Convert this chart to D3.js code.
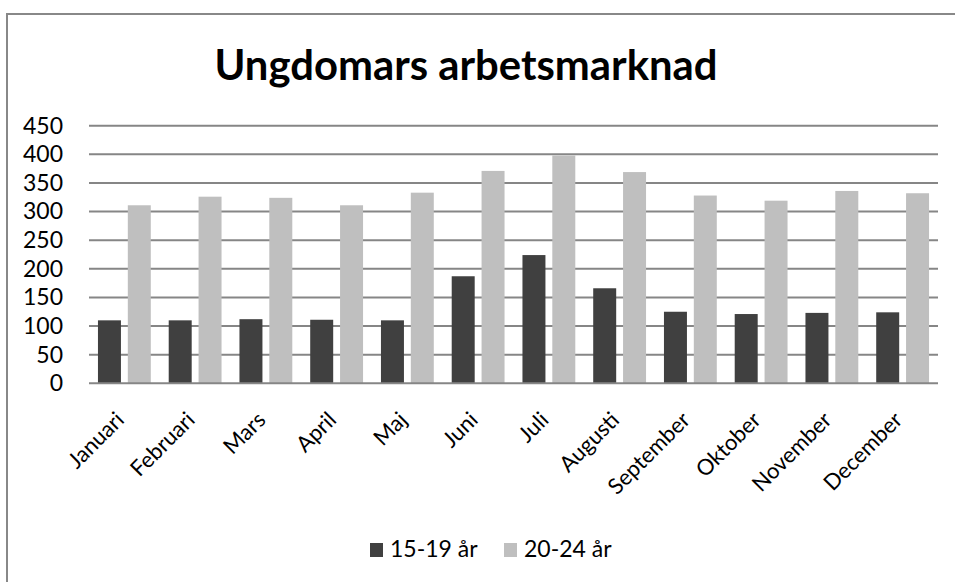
<!DOCTYPE html>
<html>
<head>
<meta charset="utf-8">
<script src="https://cdn.jsdelivr.net/npm/d3@7"></script>
<style>
  body { margin: 0; background: #fff; }
  svg { display: block; font-family: Lato, "Open Sans", sans-serif; }
</style>
</head>
<body>
<svg id="chart" width="955" height="582"></svg>
<script>
// Chart data
const months = ["Januari", "Februari", "Mars", "April", "Maj", "Juni",
                "Juli", "Augusti", "September", "Oktober", "November", "December"];
const seriesNames = ["15-19 år", "20-24 år"];
const youngValues = [110, 110, 112, 111, 110, 187, 224, 166, 125, 121, 123, 124];
const olderValues = [311, 326, 324, 311, 333, 371, 398, 369, 328, 319, 336, 332];
const yTicks = [0, 50, 100, 150, 200, 250, 300, 350, 400, 450];
const colors = ["#404040", "#bfbfbf"];

const svg = d3.select("#chart");
const plot = { left: 89, right: 938, top: 125.7, bottom: 383.3 };

// outer frame
svg.append("rect")
  .attr("x", 7).attr("y", 14)
  .attr("width", 1000).attr("height", 1000)
  .attr("fill", "none")
  .attr("stroke", "#888")
  .attr("stroke-width", 2);

// title
svg.append("text")
  .attr("x", 466).attr("y", 80)
  .attr("text-anchor", "middle")
  .attr("font-size", 42)
  .attr("font-weight", "bold")
  .attr("textLength", 503)
  .attr("lengthAdjust", "spacingAndGlyphs")
  .attr("fill", "#000")
  .text("Ungdomars arbetsmarknad");

const x0 = d3.scaleBand().domain(months).range([plot.left, plot.right]);
const x1 = d3.scaleBand().domain(seriesNames).range([0, x0.bandwidth()])
  .paddingInner(0.23).paddingOuter(0.3);
const y = d3.scaleLinear().domain([0, 450]).range([plot.bottom, plot.top]);

// gridlines
svg.append("g")
  .selectAll("line")
  .data(yTicks.filter(d => d > 0))
  .join("line")
  .attr("x1", plot.left).attr("x2", plot.right)
  .attr("y1", d => y(d)).attr("y2", d => y(d))
  .attr("stroke", "#868686")
  .attr("stroke-width", 2);

// y axis labels
const yAxis = svg.append("g")
  .attr("transform", `translate(${plot.left},0)`)
  .call(d3.axisLeft(y).tickValues(yTicks).tickSize(0).tickPadding(26));
yAxis.select(".domain").remove();
yAxis.selectAll("text")
  .attr("font-size", 23)
  .attr("font-family", "Lato, sans-serif")
  .attr("fill", "#000");

// bars
const rows = months.map((m, i) => ({ month: m, values: [youngValues[i], olderValues[i]] }));
svg.append("g")
  .selectAll("g")
  .data(rows)
  .join("g")
  .attr("transform", d => `translate(${x0(d.month)},0)`)
  .selectAll("rect")
  .data(d => d.values.map((v, k) => ({ key: seriesNames[k], value: v, k })))
  .join("rect")
  .attr("x", d => x1(d.key))
  .attr("width", x1.bandwidth())
  .attr("y", d => y(d.value))
  .attr("height", d => y(0) - y(d.value))
  .attr("fill", d => colors[d.k]);

// baseline axis
svg.append("line")
  .attr("x1", plot.left).attr("x2", plot.right)
  .attr("y1", y(0)).attr("y2", y(0))
  .attr("stroke", "#868686")
  .attr("stroke-width", 2);

// x labels, rotated
svg.append("g")
  .selectAll("text")
  .data(months)
  .join("text")
  .attr("transform", d => `translate(${x0(d) + x0.bandwidth() / 2 + 1},${y(0) + 38}) rotate(-45)`)
  .attr("text-anchor", "end")
  .attr("font-size", 22)
  .attr("fill", "#000")
  .text(d => d);

// legend
const legend = svg.append("g");
const legendX = [370, 504];
seriesNames.forEach((name, i) => {
  legend.append("rect")
    .attr("x", legendX[i]).attr("y", 543)
    .attr("width", 13).attr("height", 14)
    .attr("fill", colors[i]);
  legend.append("text")
    .attr("x", legendX[i] + 20).attr("y", 557)
    .attr("font-size", 23)
    .attr("fill", "#000")
    .text(name);
});
</script>
</body>
</html>
